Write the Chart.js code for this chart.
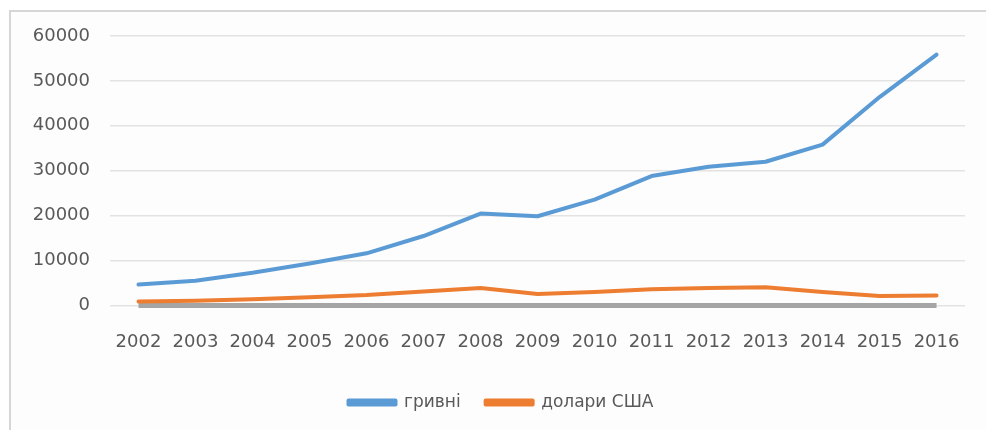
<!DOCTYPE html>
<html>
<head>
<meta charset="utf-8">
<script src="https://cdn.jsdelivr.net/npm/chart.js@4/dist/chart.umd.min.js"></script>
<style>
  html, body { margin: 0; background: #ffffff; overflow: hidden; }
  #ramka {
    position: absolute; left: 9px; top: 10px; width: 977px; height: 420px;
    border-left: 2px solid #d6d6d6; border-top: 2px solid #d6d6d6;
    background: #fdfdfd;
  }
  #ramka canvas { display: block; }
</style>
</head>
<body>
<div id="ramka"><canvas id="myChart" width="975" height="418"></canvas></div>
<script>
// roky
const roky = ["2002", "2003", "2004", "2005", "2006", "2007", "2008", "2009",
  "2010", "2011", "2012", "2013", "2014", "2015", "2016"];
// гривні
const hryvni = [4650, 5500, 7250, 9350, 11600, 15450, 20450, 19850,
  23550, 28800, 30900, 32000, 35800, 46400, 55850];
// долари США
const dolary = [880, 1050, 1370, 1830, 2300, 3070, 3890, 2550,
  2970, 3580, 3860, 4030, 3010, 2120, 2190];
// третій ряд (сірий, без легенди)
const tretij = [0, 0, 0, 0, 0, 0, 0, 0, 0, 0, 0, 0, 0, 0, 0];
const yTicks = [0, 10000, 20000, 30000, 40000, 50000, 60000];

const shrift = { family: "DejaVu Sans", size: 18 };
const sirij = "#595959";

const lineChart = document.getElementById("myChart");
let myChart = new Chart(lineChart, {
  type: "line",
  data: {
    labels: roky,
    datasets: [
      { label: "гривні", data: hryvni, borderColor: "#5b9bd5", backgroundColor: "#5b9bd5",
        borderWidth: 4, pointRadius: 0, borderCapStyle: "round", borderJoinStyle: "round" },
      { label: "долари США", data: dolary, borderColor: "#ed7d31", backgroundColor: "#ed7d31",
        borderWidth: 4, pointRadius: 0, borderCapStyle: "round", borderJoinStyle: "round" },
      { label: "", data: tretij, borderColor: "#a5a5a5", backgroundColor: "#a5a5a5",
        borderWidth: 5, pointRadius: 0, clip: false }
    ]
  },
  options: {
    responsive: false,
    animation: false,
    layout: { padding: { left: 21, right: 16, top: 24, bottom: 9 } },
    plugins: {
      tooltip: { enabled: false },
      legend: {
        position: "bottom",
        labels: {
          color: sirij,
          font: { family: "DejaVu Sans", size: 17 },
          boxWidth: 47,
          boxHeight: 4,
          padding: 25,
          filter: (item) => item.text !== ""
        }
      }
    },
    scales: {
      x: {
        offset: true,
        afterFit: (scale) => { scale.height = scale.height - 10; },
        grid: { display: false, drawTicks: false },
        border: { display: false },
        ticks: { color: sirij, font: shrift, padding: 26, maxRotation: 0 }
      },
      y: {
        min: 0, max: 60000,
        afterFit: (scale) => {
          scale.width = 78;
          scale.paddingTop = 0;
          scale.paddingBottom = 0;
        },
        afterBuildTicks: (scale) => { scale.ticks = yTicks.map(v => ({ value: v })); },
        grid: { color: "#e3e3e3", lineWidth: 1.5, drawTicks: false },
        border: { display: false },
        ticks: { color: sirij, font: shrift, padding: 20, callback: (v) => String(v) }
      }
    }
  }
});
</script>
</body>
</html>
